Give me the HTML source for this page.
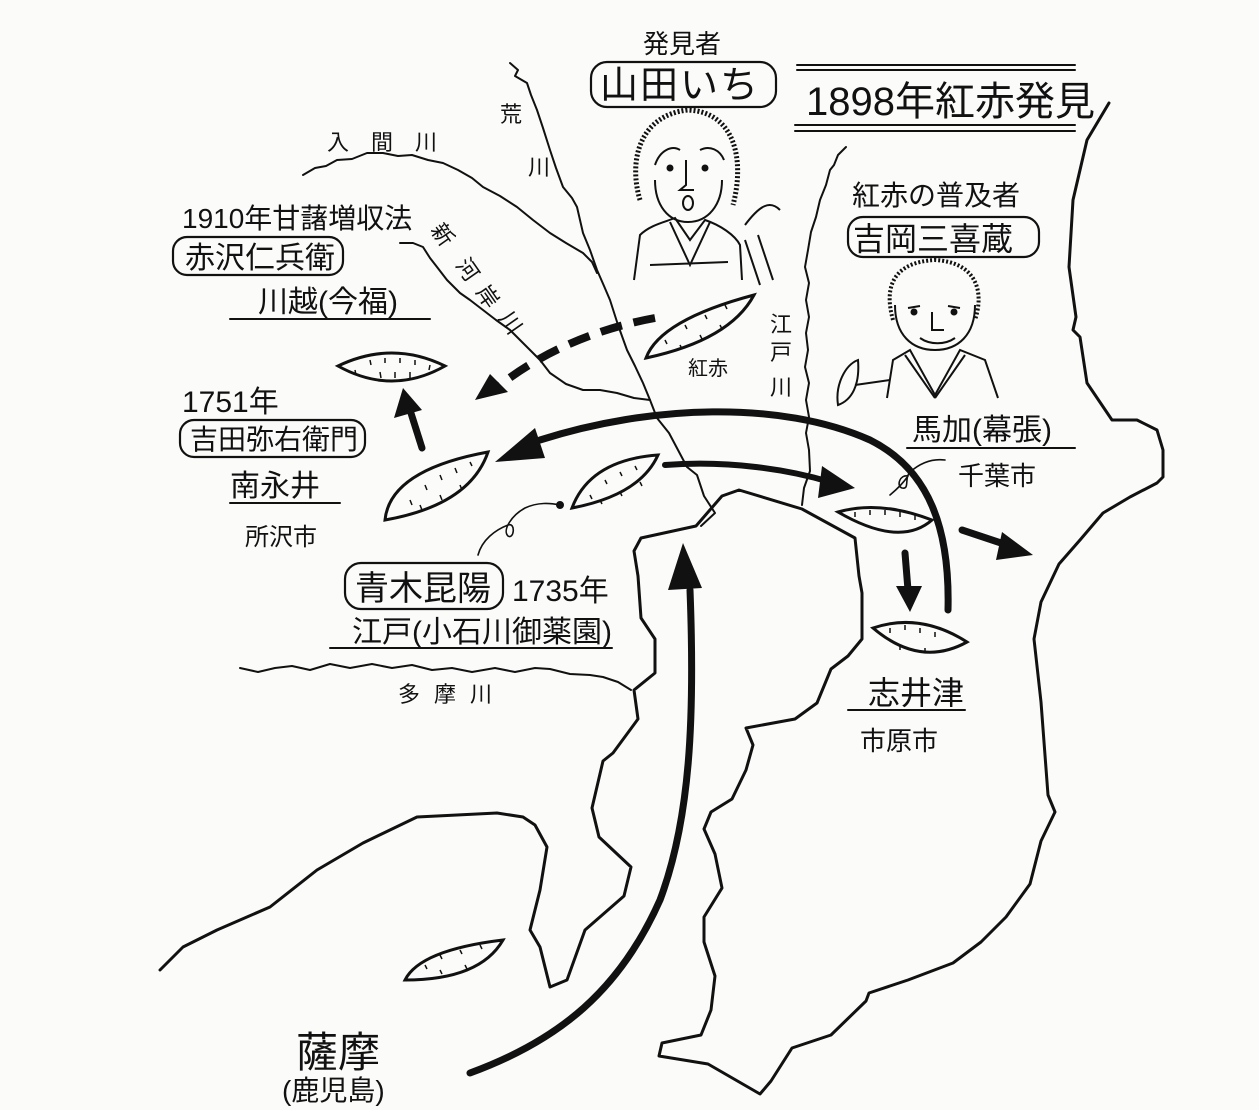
<!DOCTYPE html>
<html><head><meta charset="utf-8"><style>
html,body{margin:0;padding:0;background:#fbfbfa;}
svg{display:block}
text{font-family:"Liberation Sans","Noto Sans CJK JP",sans-serif;fill:#111;}
</style></head><body>
<svg width="1259" height="1110" viewBox="0 0 1259 1110" xmlns="http://www.w3.org/2000/svg">
<rect width="1259" height="1110" fill="#fbfbfa"/>
<g fill="none" stroke="#111" stroke-linejoin="round" stroke-linecap="round">
<!-- East coast of Boso -->
<polyline stroke-width="3" points="1109,103 1087,140 1073,200 1069,267 1076,317 1073,330 1080,337 1087,383 1112,420 1137,420 1157,430 1163,450 1163,477 1157,483 1130,497 1103,513 1080,540 1059,564 1041,602 1034,639 1041,702 1048,795 1055,812 1041,841 1030,884 1006,917 981,942 953,963 908,980 869,993 866,1001 831,1035 792,1048 771,1081 760,1094 708,1064 659,1056 662,1043 701,1035 711,1010 715,976 704,942 704,917 722,888 715,854 704,829 711,812 732,799 746,770 753,745 746,728 795,719 817,703 831,669 848,656 862,639 862,593 859,576 855,538 802,509 739,490 722,496 696,526 641,538 634,551 638,576 641,618 655,639 655,673 634,690 638,719 613,753 603,761 592,808 599,837 631,867 624,896 585,930 567,980 550,987 540,947 530,930 540,890 547,847 535,825 523,817 497,813 417,817 363,843 317,870 270,907 217,930 183,947 160,970"/>
<!-- rivers -->
<polyline stroke-width="2" points="510,63 518,70 515,76 527,83 531,95 537,110 543,128 550,150 556,168 563,187 572,198 577,207 580,220 583,233 590,250 597,270 604,286 610,300 618,325 627,350 635,366 643,383 650,400 657,418 669,433 678,450 687,467 697,475 704,496 715,513 701,526"/>
<polyline stroke-width="2" points="303,175 315,168 326,166 337,160 352,159 367,153 383,153 398,156 412,155 428,160 443,163 458,170 472,178 483,187 500,196 517,207 533,220 550,233 566,243 583,253 592,262 597,273"/>
<polyline stroke-width="2" points="400,243 413,243 423,247 430,258 437,267 447,280 460,293 470,300 483,310 496,320 510,330 520,340 530,350 540,360 550,373 566,384 583,390 600,390 617,393 634,398 650,400"/>
<polyline stroke-width="2" points="846,147 838,155 834,165 830,170 826,185 820,200 816,217 811,232 808,250 805,267 809,283 806,300 809,317 806,333 808,350 805,367 809,383 806,400 809,417 806,433 809,450 810,471 804,488 802,505"/>
<polyline stroke-width="2" points="240,668 258,672 275,668 292,666 310,670 330,664 350,668 372,664 392,668 412,665 432,670 452,668 472,672 495,668 515,672 535,668 550,669 570,674 590,675 603,677 618,682 631,690"/>
<!-- underlines -->
<g stroke-width="2">
<line x1="230" y1="319" x2="430" y2="319"/>
<line x1="230" y1="503" x2="340" y2="503"/>
<line x1="330" y1="648" x2="612" y2="648"/>
<line x1="907" y1="448" x2="1075" y2="448"/>
<line x1="848" y1="710" x2="965" y2="710"/>
<line x1="797" y1="65" x2="1075" y2="65"/><line x1="797" y1="70" x2="1075" y2="70"/>
<line x1="795" y1="125" x2="1075" y2="125"/><line x1="795" y1="131" x2="1075" y2="131"/>
</g>
<!-- boxes -->
<g stroke-width="2.2">
<rect x="591" y="62" width="185" height="45" rx="16"/>
<rect x="848" y="217" width="191" height="40" rx="15"/>
<rect x="173" y="237" width="170" height="38" rx="14"/>
<rect x="180" y="420" width="185" height="37" rx="14"/>
<rect x="345" y="563" width="158" height="46" rx="16"/>
</g>
<!-- connector squiggles -->
<path stroke-width="1.6" d="M478,555 C482,540 495,530 508,525 C516,522 514,540 508,536 C502,530 512,515 525,508 C538,502 550,503 560,505"/>
<circle cx="560" cy="505" r="3.5" fill="#111"/>
<path stroke-width="1.6" d="M945,460 C930,458 918,465 910,472 C904,478 910,490 902,488 C896,486 900,474 908,476 C904,482 896,490 890,495"/>
<!-- arrows -->
<path stroke-width="7" d="M948,610 C950,530 930,470 870,440 C780,400 650,405 540,440"/>
<polygon points="495,462 535,428 545,458" fill="#111" stroke="none"/>
<path stroke-width="6" d="M665,465 C730,460 790,470 830,482"/>
<polygon points="855,488 822,466 818,498" fill="#111" stroke="none"/>
<path stroke-width="7" d="M422,448 L410,410"/>
<polygon points="403,388 394,418 422,410" fill="#111" stroke="none"/>
<path stroke-width="7" d="M905,553 L908,590"/>
<polygon points="910,612 896,586 922,586" fill="#111" stroke="none"/>
<path stroke-width="7" d="M962,530 L1010,546"/>
<polygon points="1033,555 1002,532 996,560" fill="#111" stroke="none"/>
<path stroke-width="8" stroke-dasharray="22,12" stroke-linecap="butt" d="M655,318 C600,328 545,350 500,385"/>
<polygon points="475,400 490,374 508,392" fill="#111" stroke="none"/>
<path stroke-width="7" d="M470,1073 C560,1040 620,990 660,900 C690,820 695,720 690,590"/>
<polygon points="683,543 668,590 702,588" fill="#111" stroke="none"/>
</g>
<!-- sweet potatoes -->
<g stroke="#111" stroke-width="3" fill="#fbfbfa">
<path d="M338,366 Q392,340 445,366 Q392,396 338,366 Z"/>
<path d="M385,520 Q390,470 488,452 Q470,505 385,520 Z"/>
<path d="M572,508 Q590,460 658,455 Q640,495 572,508 Z"/>
<path d="M646,358 Q660,320 754,295 Q730,340 646,358 Z"/>
<path d="M838,512 Q880,500 932,520 Q900,548 838,512 Z"/>
<path d="M873,628 Q920,612 967,642 Q920,668 873,628 Z"/>
<path d="M405,980 Q420,950 503,940 Q480,980 405,980 Z"/>
</g>
<g stroke="#111" stroke-width="1.5">
<path d="M355,370 l1,5 M370,360 l1,5 M385,358 l0,5 M400,358 l0,5 M415,360 l0,5 M430,365 l-1,5 M380,372 l1,6 M395,372 l0,6 M410,372 l0,6"/>
<path d="M410,500 l2,5 M425,485 l2,5 M440,475 l2,5 M455,468 l2,5 M470,462 l2,4 M420,505 l2,5 M440,495 l2,5 M460,485 l2,5"/>
<path d="M590,495 l2,4 M605,480 l2,4 M620,472 l2,4 M635,466 l2,4 M600,500 l2,4 M620,492 l2,4 M640,482 l2,4"/>
<path d="M665,340 l2,4 M685,325 l2,4 M705,315 l2,4 M725,305 l2,4 M680,345 l2,4 M700,335 l2,4 M720,325 l2,4"/>
<path d="M855,512 l0,5 M870,510 l0,5 M885,510 l0,5 M900,512 l0,5 M915,515 l0,5"/>
<path d="M890,628 l0,5 M905,625 l0,5 M920,628 l0,5 M935,632 l0,5 M900,645 l0,5 M925,648 l0,5"/>
<path d="M425,965 l2,4 M440,955 l2,4 M460,950 l2,4 M480,945 l2,4 M440,970 l2,4 M465,965 l2,4"/>
</g>
<!-- portrait 1 -->
<g fill="none" stroke="#111" stroke-width="2">
<path d="M640,200 C628,160 640,115 688,110 C735,112 745,160 733,205" stroke-width="5" stroke-dasharray="2,2"/>
<path d="M655,180 C655,205 668,222 688,222 C708,222 722,205 722,180"/>
<path d="M655,165 C660,150 672,145 680,150 M700,150 C710,145 720,150 724,160"/>
<circle cx="670" cy="168" r="2.5" fill="#111"/><circle cx="705" cy="168" r="2.5" fill="#111"/>
<path d="M686,160 L686,185 L680,190 L694,190"/>
<ellipse cx="688" cy="203" rx="5" ry="7"/>
<path d="M634,280 L640,235 C650,225 665,222 675,218 L690,240 L705,220 C720,225 735,235 740,245 L742,280"/>
<path d="M670,222 L690,265 L710,222 M650,265 L728,262"/>
<path d="M745,225 C760,205 770,200 780,210 M745,240 L760,285 M758,235 L773,280"/>
</g>
<!-- portrait 2 -->
<g fill="none" stroke="#111" stroke-width="2">
<path d="M893,320 C883,285 895,262 935,260 C975,262 985,290 975,320" stroke-width="4" stroke-dasharray="2,2"/>
<path d="M895,305 C895,335 912,350 935,350 C958,350 975,335 975,305"/>
<path d="M908,308 l12,-2 M948,306 l12,2"/>
<circle cx="914" cy="312" r="2.5" fill="#111"/><circle cx="954" cy="312" r="2.5" fill="#111"/>
<path d="M932,312 L932,330 L944,330 M920,338 C930,345 945,345 955,338"/>
<path d="M887,398 L893,360 L910,350 L935,395 L960,350 L985,360 L998,398"/>
<path d="M905,355 L935,398 M965,355 L935,398"/>
<path d="M838,405 C835,385 845,365 858,360 C860,385 852,400 838,405 Z"/>
<path d="M855,385 L890,380"/>
</g>
<!-- texts -->
<text x="643" y="53" font-size="26">発見者</text>
<text x="600" y="98" font-size="38" letter-spacing="2">山田いち</text>
<text x="806" y="115" font-size="40" font-family="Liberation Sans Narrow, Liberation Sans, Noto Sans CJK JP, sans-serif">1898年紅赤発見</text>
<text x="327" y="150" font-size="22" letter-spacing="22">入間川</text>
<text x="500" y="122" font-size="22">荒</text>
<text x="528" y="175" font-size="22">川</text>
<text x="182" y="228" font-size="28">1910年甘藷増収法</text>
<text x="185" y="268" font-size="30">赤沢仁兵衛</text>
<text x="258" y="312" font-size="30">川越(今福)</text>
<text x="852" y="205" font-size="28">紅赤の普及者</text>
<text x="853" y="250" font-size="32">吉岡三喜蔵</text>
<text x="770" y="332" font-size="22">江</text>
<text x="770" y="360" font-size="22">戸</text>
<text x="770" y="395" font-size="22">川</text>
<text x="688" y="375" font-size="20">紅赤</text>
<text x="182" y="412" font-size="30">1751年</text>
<text x="190" y="449" font-size="28">吉田弥右衛門</text>
<text x="230" y="496" font-size="30">南永井</text>
<text x="245" y="545" font-size="24">所沢市</text>
<text x="912" y="440" font-size="30">馬加(幕張)</text>
<text x="958" y="485" font-size="26">千葉市</text>
<text x="355" y="600" font-size="34">青木昆陽</text>
<text x="512" y="601" font-size="30">1735年</text>
<text x="352" y="642" font-size="30">江戸(小石川御薬園)</text>
<text x="398" y="702" font-size="22" letter-spacing="14">多摩川</text>
<text x="868" y="704" font-size="32">志井津</text>
<text x="860" y="750" font-size="26">市原市</text>
<text x="296" y="1067" font-size="42">薩摩</text>
<text x="282" y="1100" font-size="28">(鹿児島)</text>
<g transform="translate(430,230) rotate(55)">
<text x="0" y="0" font-size="22">新</text>
</g>
<g transform="translate(455,265) rotate(55)"><text x="0" y="0" font-size="22">河</text></g>
<g transform="translate(475,292) rotate(55)"><text x="0" y="0" font-size="22">岸</text></g>
<g transform="translate(498,318) rotate(55)"><text x="0" y="0" font-size="22">川</text></g>
</svg>
</body></html>
